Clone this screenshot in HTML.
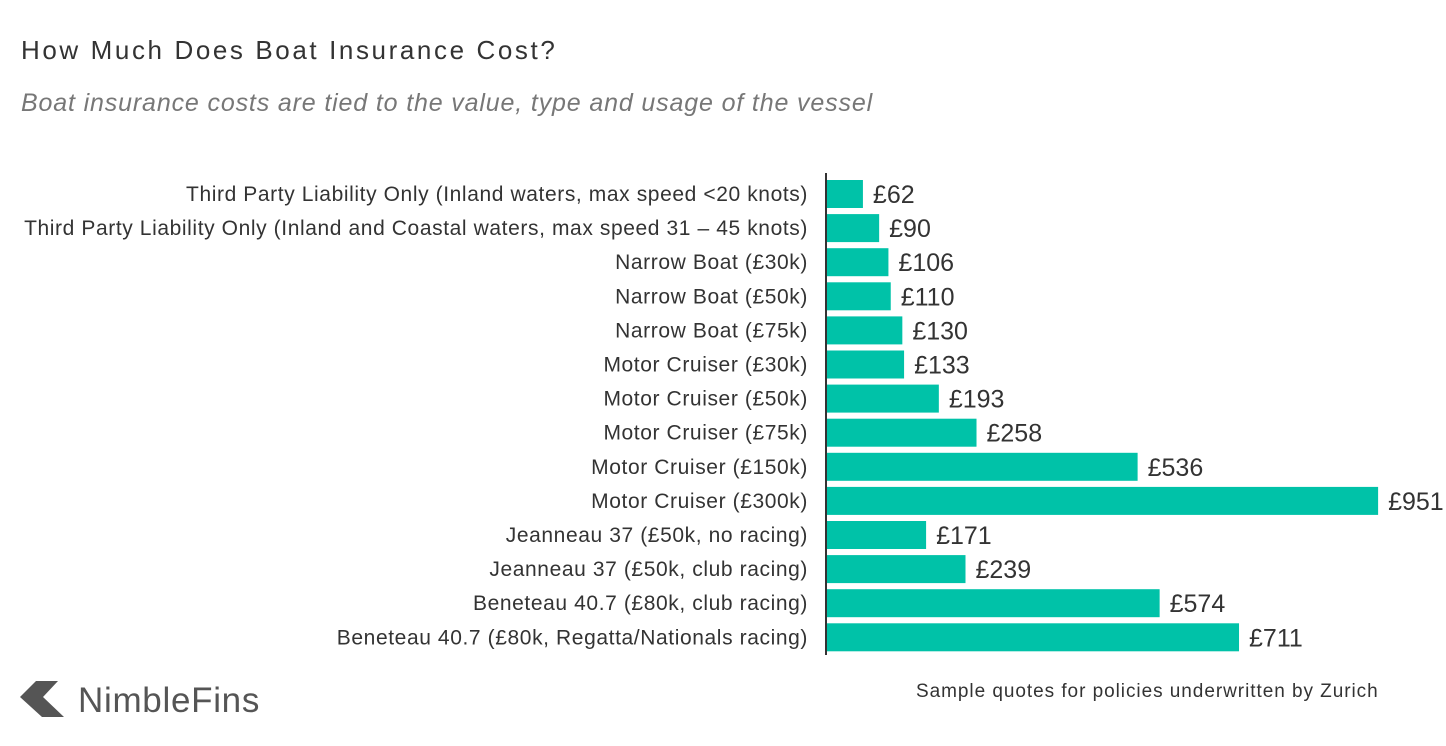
<!DOCTYPE html>
<html><head><meta charset="utf-8"><style>
body{margin:0;width:1446px;height:746px;background:#fff;overflow:hidden;font-family:"Liberation Sans",sans-serif}
.t{position:absolute;left:21px;top:35px;font-size:26px;letter-spacing:2.6px;color:#333}
.s{position:absolute;left:21px;top:89px;font-size:25px;letter-spacing:0.85px;color:#777;font-style:italic}
.src{position:absolute;left:916px;top:681px;font-size:19px;letter-spacing:0.95px;color:#333}
.logo{position:absolute;left:78px;top:681px;font-size:35px;letter-spacing:0.7px;color:#555}
</style></head><body>
<div class="t">How Much Does Boat Insurance Cost?</div>
<div class="s">Boat insurance costs are tied to the value, type and usage of the vessel</div>
<svg width="1446" height="746" style="position:absolute;left:0;top:0" id="chart">
<line x1="826" y1="173" x2="826" y2="655" stroke="#333" stroke-width="2"/>
<polygon points="20,697 36,681 58,681 43,697 64,717 42,717" fill="#555"/>
</svg>
<div class="logo">NimbleFins</div>
<div class="src">Sample quotes for policies underwritten by Zurich</div>
<script>
const categories=["Third Party Liability Only (Inland waters, max speed <20 knots)","Third Party Liability Only (Inland and Coastal waters, max speed 31 – 45 knots)","Narrow Boat (£30k)","Narrow Boat (£50k)","Narrow Boat (£75k)","Motor Cruiser (£30k)","Motor Cruiser (£50k)","Motor Cruiser (£75k)","Motor Cruiser (£150k)","Motor Cruiser (£300k)","Jeanneau 37 (£50k, no racing)","Jeanneau 37 (£50k, club racing)","Beneteau 40.7 (£80k, club racing)","Beneteau 40.7 (£80k, Regatta/Nationals racing)"];
const values=[62,90,106,110,130,133,193,258,536,951,171,239,574,711];
const svg=document.getElementById('chart');const NS='http://www.w3.org/2000/svg';
const x0=827,scale=0.5795,top0=180,step=34.1,bh=28;
const xs=v=>x0+v*scale;
const ys=i=>top0+i*step;
categories.forEach((c,i)=>{
 const r=document.createElementNS(NS,'rect');
 r.setAttribute('x',x0);r.setAttribute('y',ys(i));r.setAttribute('width',xs(values[i])-x0);r.setAttribute('height',bh);r.setAttribute('fill','#00c2a8');
 
 
 svg.appendChild(r);
 const l=document.createElementNS(NS,'text');
 l.setAttribute('x',808);l.setAttribute('y',ys(i)+bh/2+7);l.setAttribute('text-anchor','end');l.setAttribute('font-size','21');l.setAttribute('letter-spacing','0.6');l.setAttribute('fill','#333');l.textContent=c;
 
 
 svg.appendChild(l);
 const v=document.createElementNS(NS,'text');
 v.setAttribute('x',xs(values[i])+10);v.setAttribute('y',ys(i)+bh/2+9);v.setAttribute('font-size','25');v.setAttribute('fill','#333');v.textContent='£'+values[i];
 
 
 svg.appendChild(v);
});
</script>
</body></html>
